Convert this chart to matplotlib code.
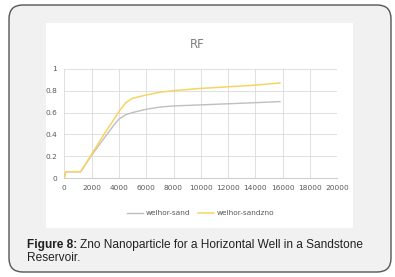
import matplotlib.pyplot as plt
from matplotlib.patches import FancyBboxPatch, Rectangle

# dados
x_sand = [0, 100, 1200, 2000, 3000, 3600, 4000, 4500, 5000, 6000, 7000, 8000, 10000, 12000, 14000, 15800]
rf_sand = [0, 0.06, 0.06, 0.21, 0.38, 0.48, 0.54, 0.58, 0.60, 0.63, 0.65, 0.66, 0.67, 0.68, 0.69, 0.70]

x_zno = [0, 100, 1200, 2000, 3000, 3600, 4000, 4500, 5000, 6000, 7000, 8000, 10000, 12000, 14000, 15800]
rf_zno = [0, 0.06, 0.06, 0.22, 0.42, 0.53, 0.61, 0.69, 0.73, 0.76, 0.785, 0.80, 0.82, 0.835, 0.85, 0.87]

xticks = list(range(0, 20001, 2000))
yticks = [0, 0.2, 0.4, 0.6, 0.8, 1]

narrow = ['Liberation Sans Narrow', 'DejaVu Sans Condensed', 'DejaVu Sans']

fig = plt.figure(figsize=(3.95, 2.77), dpi=100)
fig.patch.set_facecolor('white')

# caixa arredondada de fundo + area branca do grafico
caixa = FancyBboxPatch((9 / 395, 5 / 277), 382 / 395, 267 / 277,
                       boxstyle='round,pad=0,rounding_size=0.035',
                       transform=fig.transFigure, facecolor='#f1f1f1',
                       edgecolor='#555555', linewidth=1.0, mutation_aspect=395 / 277,
                       zorder=-2)
fig.patches.append(caixa)
area = Rectangle((46 / 395, 1 - 228 / 277), 307 / 395, 205 / 277, transform=fig.transFigure,
                 facecolor='white', edgecolor='none', zorder=-1)
fig.patches.append(area)

ax = fig.add_axes([64.3 / 395, 1 - 178.3 / 277, 273 / 395, 109.6 / 277])
ax.set_facecolor('white')
ax.plot(x_sand, rf_sand, color='#bfbfbf', linewidth=1.0, label='welhor-sand')
ax.plot(x_zno, rf_zno, color='#f7d462', linewidth=1.1, label='welhor-sandzno')

ax.set_xlim(0, 20000)
ax.set_ylim(0, 1)
ax.set_xticks(xticks)
ax.set_yticks(yticks)
ax.set_xticklabels([str(t) for t in xticks])
ax.set_yticklabels(['0', '0.2', '0.4', '0.6', '0.8', '1'])
ax.grid(True, color='#dadada', linewidth=0.6)
ax.set_axisbelow(True)
for lado in ['top', 'right', 'left']:
    ax.spines[lado].set_visible(False)
ax.spines['bottom'].set_color('#d0d0d0')
ax.tick_params(length=0, labelsize=5.3, labelcolor='#595959', pad=5)
for lbl in ax.get_xticklabels() + ax.get_yticklabels():
    lbl.set_fontfamily(narrow)

fig.text(197 / 395, 1 - 45 / 277, 'RF', ha='center', va='center', fontsize=8.5,
         color='#7f7f7f', family=narrow)

leg = ax.legend(loc='center', bbox_to_anchor=(0.5, -0.32), ncol=2, frameon=False,
                handlelength=2.2, columnspacing=1.0, handletextpad=0.4,
                prop={'family': narrow, 'size': 5.3})
for t in leg.get_texts():
    t.set_color('#595959')

# legenda da figura
negrito = fig.text(27 / 395, 1 - 245 / 277, 'Figure 8:', fontsize=8.6, va='center', ha='left',
                   color='#222222', family='Liberation Sans', fontweight='bold')
fig.canvas.draw()
bb = negrito.get_window_extent()
fig.text((bb.x1 + 2.5) / 395, 1 - 245 / 277,
         'Zno Nanoparticle for a Horizontal Well in a Sandstone',
         fontsize=8.6, va='center', ha='left', color='#222222', family='Liberation Sans')
fig.text(27 / 395, 1 - 258 / 277, 'Reservoir.', fontsize=8.6, va='center', ha='left',
         color='#222222', family='Liberation Sans')

fig.savefig('out.png', dpi=100)
